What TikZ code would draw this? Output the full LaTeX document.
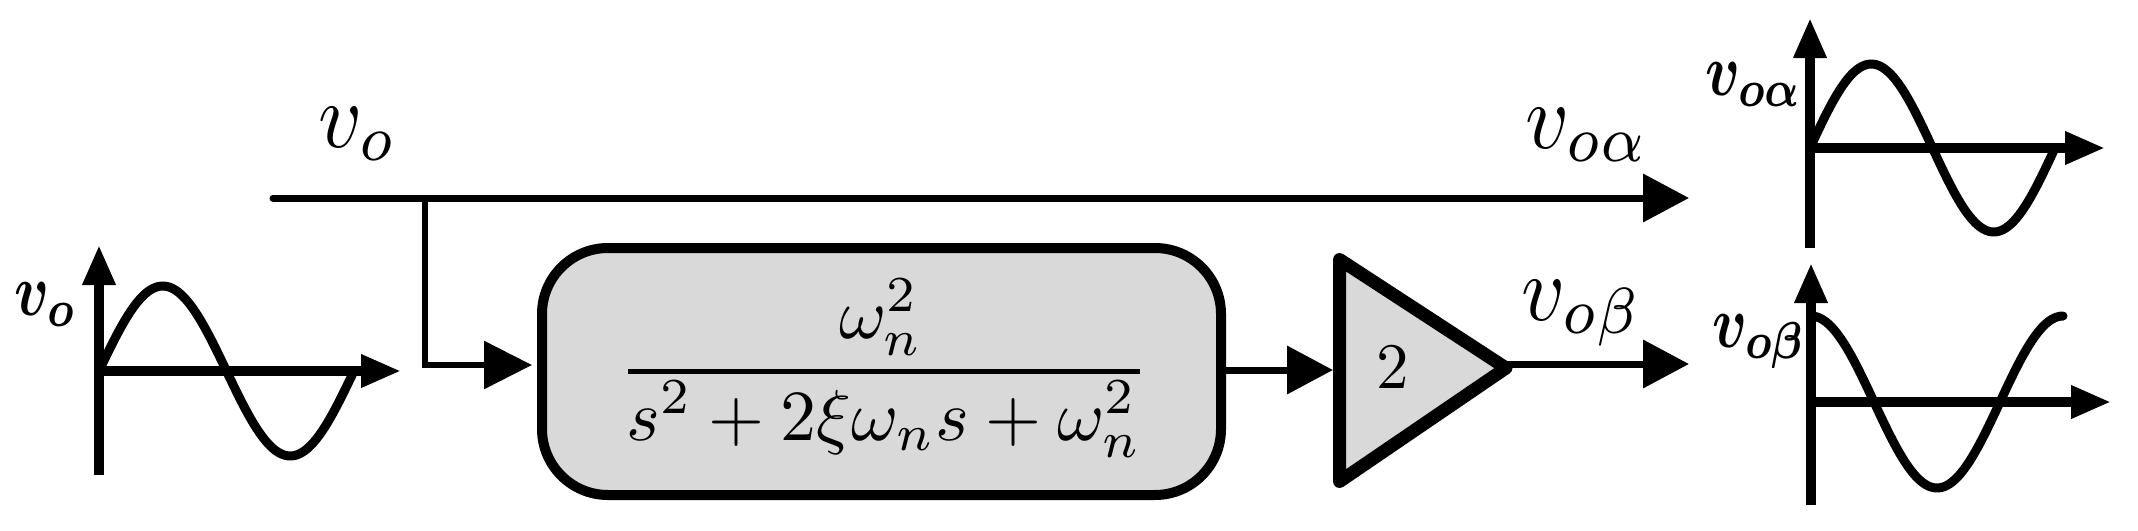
\documentclass[tikz,border=0pt]{standalone}
\usepackage{amsmath}
\usetikzlibrary{arrows.meta}
\definecolor{boxgray}{HTML}{D9D9D9}
\tikzset{
  wire/.style={line width=7pt,-{Triangle[length=46pt,width=47pt]}},
  plainwire/.style={line width=7pt},
  axis/.style={line width=9.5pt,-{Triangle[length=40pt,width=31pt]}},
  wave/.style={line width=9pt,line cap=round,line join=round},
  mathlabel/.style={inner sep=0pt,anchor=base west,xscale=8.5,yscale=9.3},
  boldlabel/.style={inner sep=0pt,anchor=base west,xscale=5.8,yscale=7.4},
  frac/.style={inner sep=0pt,anchor=base,scale=7.2}
}
\begin{document}
\begin{tikzpicture}[x=1pt,y=-1pt]
\useasboundingbox[fill=white] (0,0) rectangle (2138,530);
% blocks
\node[draw,fill=boxgray,line width=10pt,rectangle,rounded corners=66pt,
      minimum width=679pt,minimum height=247pt,inner sep=0pt] (box) at (881.5,371.5) {};
\coordinate (tl) at (1339.5,259.5);
\coordinate (bl) at (1339.5,481.5);
\coordinate (tip) at (1506,368);
\coordinate (tw) at (1339,370);
\draw[fill=boxgray,line width=13pt,line join=round] (tl) -- (tip) -- (bl) -- cycle;
\node[inner sep=0pt,scale=6.5] (gain) at (1393,368) {$2$};
\node[frac] (num) at (881,338) {$\omega_n^2$};
\node[frac] (den) at (884,440) {$s^2+2\xi\omega_n s+\omega_n^2$};
\coordinate (barl) at (628,371);
\coordinate (barr) at (1140,371);
\draw[line width=5pt] (barl) -- (barr);
% connectors
\coordinate (mains) at (273,198);
\coordinate (maine) at (1689,198);
\coordinate (branch) at (425,198);
\coordinate (boxin) at (532,365);
\coordinate (outb) at (1689,364);
\draw[plainwire,line cap=round] (mains) -- (branch);
\draw[wire] (branch) -- (maine);
\draw[line width=6pt,line join=miter,-{Triangle[length=48pt,width=47pt]}] (branch) |- (boxin);
\draw[wire] (box.east |- tw) -- (1333,370);
\draw[wire] (tip |- outb) -- (outb);
% labels
\node[mathlabel] (lvo) at (317,147) {$v_o$};
\node[mathlabel] (lva) at (1524,148) {$v_{o\alpha}$};
\node[mathlabel] (lvb) at (1520,320) {$v_{o\beta}$};
\node[boldlabel] (bvo) at (13,315) {$\boldsymbol{v_{o}}$};
\node[boldlabel] (bva) at (1704,95) {$\boldsymbol{v_{o\alpha}}$};
\node[boldlabel] (bvb) at (1711,347) {$\boldsymbol{v_{o\beta}}$};
% left waveform
\draw[axis] (99,475) -- (99,245);
\draw[axis] (99,371) -- (401,371);
\draw[wave] plot[domain=0:360,samples=90] ({99+\x/360*255},{371-85*sin(\x)});
% top-right waveform
\draw[axis] (1810,248) -- (1810,18);
\draw[axis] (1810,148) -- (2105,148);
\draw[wave] plot[domain=0:360,samples=90] ({1810+\x/360*245},{148-84*sin(\x)});
% bottom-right waveform
\draw[axis] (1811,505) -- (1811,263);
\draw[axis] (1811,402) -- (2111,402);
\draw[wave] plot[domain=0:360,samples=90] ({1811+\x/360*252},{402-86*cos(\x)});
\end{tikzpicture}
\end{document}
